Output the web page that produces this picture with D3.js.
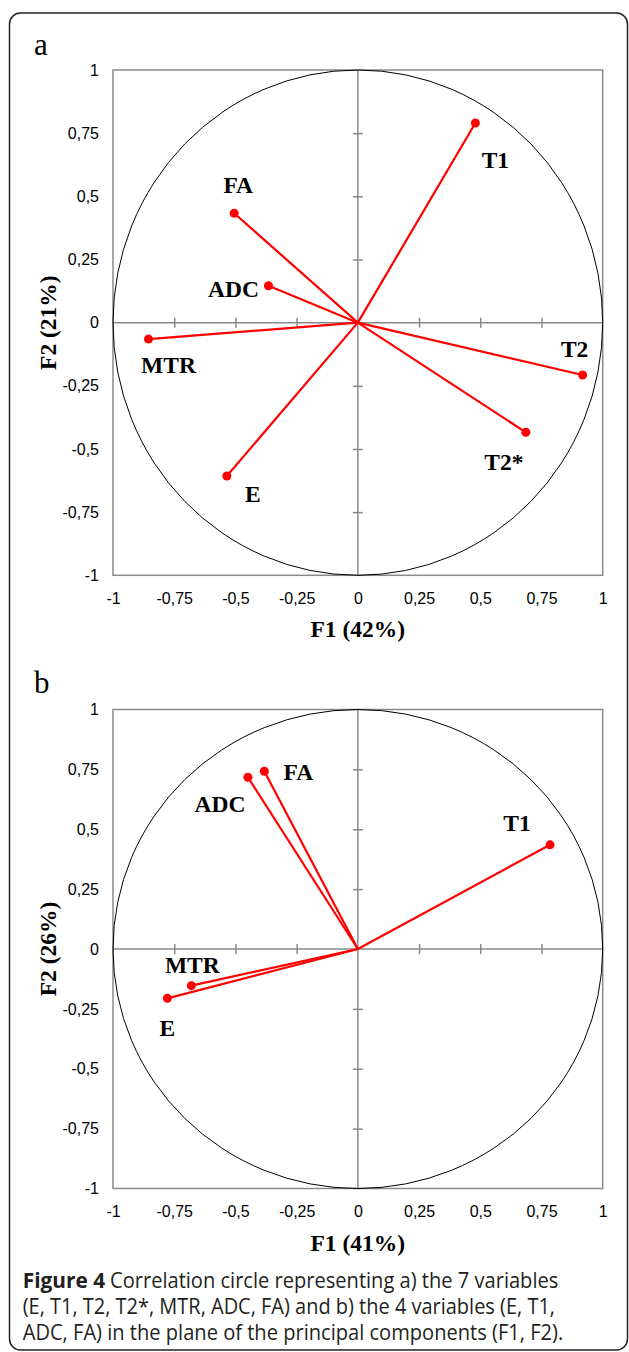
<!DOCTYPE html>
<html>
<head>
<meta charset="utf-8">
<script src="https://cdn.jsdelivr.net/npm/d3@7"></script>
<style>
  body { margin: 0; background: #fff; }
  .tick text { font-family: "Liberation Sans", Arial, sans-serif; font-size: 16px; fill: #000; }
  .lbl { font-family: "Liberation Serif", "Times New Roman", serif; font-weight: bold; font-size: 23.5px; }
  .cap { font-family: "Open Sans", sans-serif; font-size: 21px; fill: #231f20; }
</style>
</head>
<body>
<div id="chart"></div>
<script>
// shared tick values
var tickValues = [-1, -0.75, -0.5, -0.25, 0, 0.25, 0.5, 0.75, 1];

// panel a: 7 variables
var varsA = ["T1", "FA", "ADC", "MTR", "E", "T2*", "T2"];
var f1A = [0.48, -0.505, -0.365, -0.855, -0.535, 0.686, 0.918];
var f2A = [0.79, 0.433, 0.146, -0.065, -0.607, -0.434, -0.207];

// panel b: the reduced set
var varsB = ["ADC", "FA", "T1", "MTR", "E"];
var f1B = [-0.449, -0.382, 0.785, -0.68, -0.778];
var f2B = [0.717, 0.742, 0.435, -0.153, -0.206];

var axisTitles = {
  a: ["F1 (42%)", "F2 (21%)"],
  b: ["F1 (41%)", "F2 (26%)"]
};

var captionLines = [
  ["Figure 4", "Correlation circle representing a) the 7 variables"],
  ["", "(E, T1, T2, T2*, MTR, ADC, FA) and b) the 4 variables (E, T1,"],
  ["", "ADC, FA) in the plane of the principal components (F1, F2)."]
];

// label placement, pixel offsets from each point (center, baseline)
var offsetsA = {
  "T1": [20, 45], "FA": [4, -20], "ADC": [-35, 11], "MTR": [20, 34],
  "E": [26, 26], "T2*": [-22, 38], "T2": [-8, -18]
};
var offsetsB = {
  "ADC": [-28, 35], "FA": [34, 9], "T1": [-33, -14], "MTR": [1, -13], "E": [0, 38]
};

var svgWidth = 629;
var svgHeight = 1352;

var svg = d3.select("#chart")
  .append("svg")
  .attr("width", svgWidth)
  .attr("height", svgHeight);

svg.append("rect")
  .attr("width", svgWidth)
  .attr("height", svgHeight)
  .attr("fill", "#fff");

// outer frame
svg.append("rect")
  .attr("x", 9.5)
  .attr("y", 13)
  .attr("width", 618)
  .attr("height", 1337)
  .attr("rx", 11)
  .attr("fill", "none")
  .attr("stroke", "#222")
  .attr("stroke-width", 1.5);

var fmt = d => String(d).replace(".", ",");

function drawPanel(letter, letterY, top, bottom, names, f1, f2, offsets) {
  var x = d3.scaleLinear().domain([-1, 1]).range([113, 602.7]);
  var y = d3.scaleLinear().domain([-1, 1]).range([bottom, top]);

  var g = svg.append("g");

  g.append("text")
    .attr("x", 34)
    .attr("y", letterY)
    .style("font-family", "Liberation Serif, serif")
    .style("font-size", "31px")
    .text(letter);

  // plot box
  g.append("rect")
    .attr("x", x(-1))
    .attr("y", y(1))
    .attr("width", x(1) - x(-1))
    .attr("height", y(-1) - y(1))
    .attr("fill", "none")
    .attr("stroke", "#8a8a8a")
    .attr("stroke-width", 1.5);

  // zero lines
  g.append("line")
    .attr("x1", x(-1)).attr("x2", x(1))
    .attr("y1", y(0)).attr("y2", y(0))
    .attr("stroke", "#8a8a8a").attr("stroke-width", 1.5);
  g.append("line")
    .attr("x1", x(0)).attr("x2", x(0))
    .attr("y1", y(-1)).attr("y2", y(1))
    .attr("stroke", "#8a8a8a").attr("stroke-width", 1.5);

  // crossing tick marks on the zero lines
  var inner = tickValues.filter(v => Math.abs(v) < 1 && v !== 0);
  g.append("g")
    .attr("transform", `translate(0, ${y(0) - 5})`)
    .call(d3.axisBottom(x).tickValues(inner).tickSize(10).tickFormat(""))
    .call(s => s.select(".domain").remove())
    .selectAll("line").attr("stroke", "#8a8a8a").attr("stroke-width", 1.5);
  g.append("g")
    .attr("transform", `translate(${x(0) + 5}, 0)`)
    .call(d3.axisLeft(y).tickValues(inner).tickSize(10).tickFormat(""))
    .call(s => s.select(".domain").remove())
    .selectAll("line").attr("stroke", "#8a8a8a").attr("stroke-width", 1.5);

  // tick labels
  g.append("g")
    .attr("transform", `translate(0, ${bottom})`)
    .call(d3.axisBottom(x).tickValues(tickValues).tickSize(0).tickPadding(17).tickFormat(fmt))
    .call(s => s.select(".domain").remove());
  g.append("g")
    .attr("transform", `translate(${x(-1)}, 0)`)
    .call(d3.axisLeft(y).tickValues(tickValues).tickSize(0).tickPadding(14).tickFormat(fmt))
    .call(s => s.select(".domain").remove());

  // unit circle
  g.append("ellipse")
    .attr("cx", x(0))
    .attr("cy", y(0))
    .attr("rx", x(1) - x(0))
    .attr("ry", y(0) - y(1))
    .attr("fill", "none")
    .attr("stroke", "#000")
    .attr("stroke-width", 1);

  var data = names.map((n, i) => ({ name: n, f1: f1[i], f2: f2[i] }));

  g.selectAll("line.vec")
    .data(data)
    .enter()
    .append("line")
    .attr("class", "vec")
    .attr("x1", x(0))
    .attr("y1", y(0))
    .attr("x2", d => x(d.f1))
    .attr("y2", d => y(d.f2))
    .attr("stroke", "#ff0000")
    .attr("stroke-width", 2.2);

  g.selectAll("circle.pt")
    .data(data)
    .enter()
    .append("circle")
    .attr("class", "pt")
    .attr("cx", d => x(d.f1))
    .attr("cy", d => y(d.f2))
    .attr("r", 4.5)
    .attr("fill", "#ff0000");

  g.selectAll("text.lbl")
    .data(data)
    .enter()
    .append("text")
    .attr("class", "lbl")
    .attr("text-anchor", "middle")
    .attr("x", d => x(d.f1) + offsets[d.name][0])
    .attr("y", d => y(d.f2) + offsets[d.name][1])
    .text(d => d.name);

  // axis titles
  var titles = axisTitles[letter];
  g.append("text")
    .attr("class", "lbl")
    .attr("text-anchor", "middle")
    .attr("x", x(0))
    .attr("y", bottom + 62)
    .text(titles[0]);
  g.append("text")
    .attr("class", "lbl")
    .attr("text-anchor", "middle")
    .attr("transform", `translate(56, ${y(0)}) rotate(-90)`)
    .text(titles[1]);
}

drawPanel("a", 55, 70, 575.3, varsA, f1A, f2A, offsetsA);
drawPanel("b", 692.5, 709.5, 1188.5, varsB, f1B, f2B, offsetsB);

// caption
var capX = 22.7;
var capBase = [1288.3, 1314.3, 1340];
var capEnds = [558.3, 555, 563.3];
captionLines.forEach(function(line, i) {
  var start = capX;
  if (line[0]) {
    svg.append("text")
      .attr("class", "cap")
      .attr("x", capX)
      .attr("y", capBase[i])
      .attr("textLength", 82.5)
      .attr("lengthAdjust", "spacingAndGlyphs")
      .style("font-weight", "bold")
      .text(line[0]);
    start = 110;
  }
  svg.append("text")
    .attr("class", "cap")
    .attr("x", start)
    .attr("y", capBase[i])
    .attr("textLength", capEnds[i] - start)
    .attr("lengthAdjust", "spacingAndGlyphs")
    .text(line[1]);
});
</script>
</body>
</html>
